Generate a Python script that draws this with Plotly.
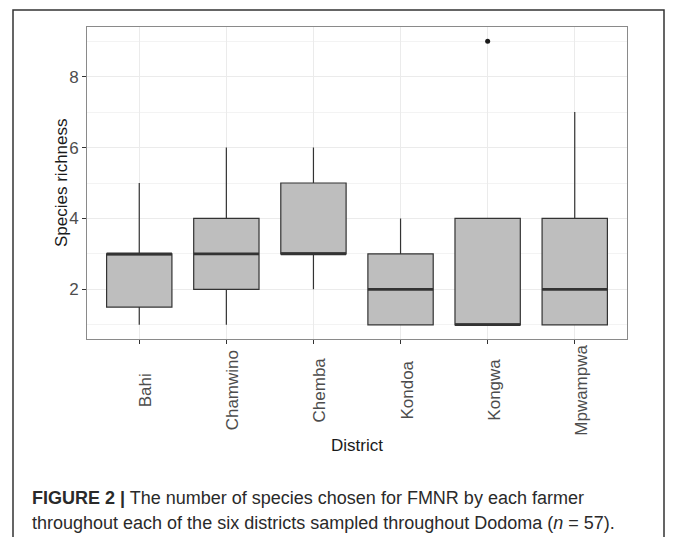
import plotly.graph_objects as go

districts = ["Bahi", "Chamwino", "Chemba", "Kondoa", "Kongwa", "Mpwampwa"]
lower_whisker = [1, 1, 2, 1, 1, 1]
q1 = [1.5, 2, 3, 1, 1, 1]
median = [3, 3, 3, 2, 1, 2]
q3 = [3, 4, 5, 3, 4, 4]
upper_whisker = [5, 6, 6, 4, 4, 7]
outlier_district = ["Kongwa"]
outlier_value = [9]

pos = list(range(1, len(districts) + 1))

OFF = 8  # page body margin
W, H = 673 - OFF, 545 - 2 * OFF
L, R, T, B = 79, 46, 19, 198
pw, ph = W - L - R, H - T - B


def px_x(p):  # screen px -> paper
    return (p - OFF - L) / pw


def px_y(p):
    return (H - B - (p - OFF)) / ph


box_width = 0.75
fig = go.Figure()
fig.add_trace(go.Box(
    x=pos, q1=q1, median=median, q3=q3,
    lowerfence=lower_whisker, upperfence=upper_whisker,
    width=box_width, whiskerwidth=0,
    fillcolor="#BEBEBE", line=dict(color="#333333", width=1.2),
    boxpoints=False, showlegend=False, hoverinfo="skip",
))
mx, my = [], []
for p, m in zip(pos, median):
    mx += [p - box_width / 2, p + box_width / 2, None]
    my += [m, m, None]
fig.add_trace(go.Scatter(x=mx, y=my, mode="lines",
                         line=dict(color="#333333", width=2.6),
                         showlegend=False, hoverinfo="skip"))
fig.add_trace(go.Scatter(
    x=[pos[districts.index(d)] for d in outlier_district], y=outlier_value,
    mode="markers", marker=dict(color="#1a1a1a", size=5),
    showlegend=False, hoverinfo="skip"))

font_family = "Liberation Sans, Arial, sans-serif"
annotations = []
for p, name in zip(pos, districts):
    annotations.append(dict(
        x=p, xref="x", y=px_y(390), yref="paper", text=name, textangle=-90,
        xanchor="center", yanchor="middle", xshift=6, showarrow=False,
        font=dict(family=font_family, size=17, color="#4D4D4D")))
annotations += [
    dict(x=px_x(61), y=px_y(183), xref="paper", yref="paper", text="Species richness",
         textangle=-90, xanchor="center", yanchor="middle", showarrow=False,
         font=dict(family=font_family, size=17, color="#1a1a1a")),
    dict(x=px_x(357), y=px_y(445), xref="paper", yref="paper", text="District",
         xanchor="center", yanchor="middle", showarrow=False,
         font=dict(family=font_family, size=17, color="#1a1a1a")),
    dict(xref="paper", yref="paper", x=px_x(30), y=px_y(498),
         xanchor="left", yanchor="middle", showarrow=False, align="left",
         text="<b>FIGURE 2 |</b> The number of species chosen for FMNR by each farmer",
         font=dict(family=font_family, size=18, color="#2a2a2a")),
    dict(xref="paper", yref="paper", x=px_x(30), y=px_y(523),
         xanchor="left", yanchor="middle", showarrow=False, align="left",
         text="throughout each of the six districts sampled throughout Dodoma (<i>n</i> = 57).",
         font=dict(family=font_family, size=18, color="#2a2a2a")),
]

fig.update_layout(
    width=W, height=H,
    margin=dict(l=L, r=R, t=T, b=B),
    paper_bgcolor="white", plot_bgcolor="white",
    font=dict(family=font_family, color="#4D4D4D"),
    xaxis=dict(
        range=[0.4, 6.6], tickvals=pos, showticklabels=False,
        ticks="outside", ticklen=4, tickcolor="#333333", tickwidth=1,
        showgrid=True, gridcolor="#EBEBEB", gridwidth=1,
        showline=True, mirror=True, linecolor="#8A8A8A", linewidth=1,
        zeroline=False,
    ),
    yaxis=dict(
        range=[0.6, 9.4], tick0=2, dtick=2,
        tickfont=dict(size=17, color="#4D4D4D"),
        ticks="outside", ticklen=4, tickcolor="#333333", tickwidth=1,
        showgrid=True, gridcolor="#EBEBEB", gridwidth=1,
        minor=dict(tick0=1, dtick=2, showgrid=True, gridcolor="#F3F3F3", gridwidth=1, ticks=""),
        showline=True, mirror=True, linecolor="#8A8A8A", linewidth=1,
        zeroline=False,
    ),
    shapes=[dict(type="rect", xref="paper", yref="paper",
                 x0=px_x(13), x1=px_x(664), y0=px_y(570), y1=px_y(10),
                 line=dict(color="#333333", width=1.5), layer="below")],
    annotations=annotations,
)

fig.write_html("out.html")
